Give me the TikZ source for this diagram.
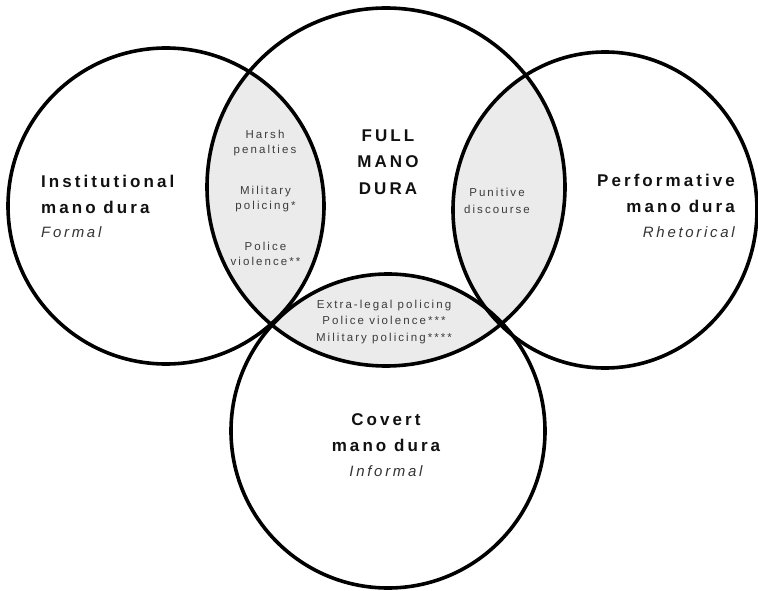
\documentclass[tikz,border=0pt]{standalone}
\usepackage{fontspec}
\newfontfamily\labfont[LetterSpace=18]{Liberation Sans}
\definecolor{lensgray}{HTML}{EBEBEB}
\definecolor{maintext}{HTML}{111111}
\definecolor{subtext}{HTML}{333333}
\definecolor{smalltext}{HTML}{3C3C3C}
\tikzset{
  ring/.style={draw=black, line width=3.6pt},
  biglab/.style={inner sep=0pt, text=maintext, font=\labfont\bfseries\fontsize{17}{20}\selectfont},
  itlab/.style={inner sep=0pt, text=subtext, font=\labfont\itshape\fontsize{15}{18}\selectfont},
  smalllab/.style={inner sep=0pt, text=smalltext, font=\labfont\fontsize{11.5}{14}\selectfont},
}
\begin{document}
\begin{tikzpicture}[x=1pt,y=-1pt]
\useasboundingbox (0,0) rectangle (758,591);
% shaded lenses (intersections with the centre circle)
\begin{scope}
  \clip (386,187) circle[radius=179pt];
  \fill[lensgray] (166,206) circle[radius=158pt];
  \fill[lensgray] (605,210) ellipse[x radius=152pt, y radius=158pt];
  \fill[lensgray] (388,431) circle[radius=157pt];
\end{scope}
% circles
\draw[ring] (166,206) circle[radius=158pt];
\draw[ring] (386,187) circle[radius=179pt];
\draw[ring] (605,210) ellipse[x radius=152pt, y radius=158pt];
\draw[ring] (388,431) circle[radius=157pt];
% Institutional
\node[biglab, anchor=base west] (inst1) at (41,187.3) {Institutional};
\node[biglab, anchor=base west] (inst2) at (41,213.3) {mano dura};
\node[itlab, anchor=base west] (inst3) at (41,237.3) {Formal};
% Full
\node[biglab, anchor=base] (full1) at (388,141.7) {FULL};
\node[biglab, anchor=base] (full2) at (388,167.7) {MANO};
\node[biglab, anchor=base] (full3) at (388,194) {DURA};
% Performative
\node[biglab, anchor=base east] (perf1) at (735,186.7) {Performative};
\node[biglab, anchor=base east] (perf2) at (735,212.7) {mano dura};
\node[itlab, anchor=base east] (perf3) at (735,237) {Rhetorical};
% Covert
\node[biglab, anchor=base] (cov1) at (386,425) {Covert};
\node[biglab, anchor=base] (cov2) at (386,451.7) {mano dura};
\node[itlab, anchor=base] (cov3) at (386,476.7) {Informal};
% left lens
\node[smalllab, anchor=base] (l1) at (265,138.3) {Harsh};
\node[smalllab, anchor=base] (l2) at (265,153.5) {penalties};
\node[smalllab, anchor=base] (l3) at (265.5,194.3) {Military};
\node[smalllab, anchor=base] (l4) at (265.5,209.3) {policing*};
\node[smalllab, anchor=base] (l5) at (265.5,250.7) {Police};
\node[smalllab, anchor=base] (l6) at (265.5,265) {violence**};
% right lens
\node[smalllab, anchor=base] (r1) at (497,196.7) {Punitive};
\node[smalllab, anchor=base] (r2) at (497,213.3) {discourse};
% bottom lens
\node[smalllab, anchor=base] (b1) at (384,308.3) {Extra-legal policing};
\node[smalllab, anchor=base] (b2) at (384,324.3) {Police violence***};
\node[smalllab, anchor=base] (b3) at (384,341.7) {Military policing****};
\end{tikzpicture}
\end{document}
